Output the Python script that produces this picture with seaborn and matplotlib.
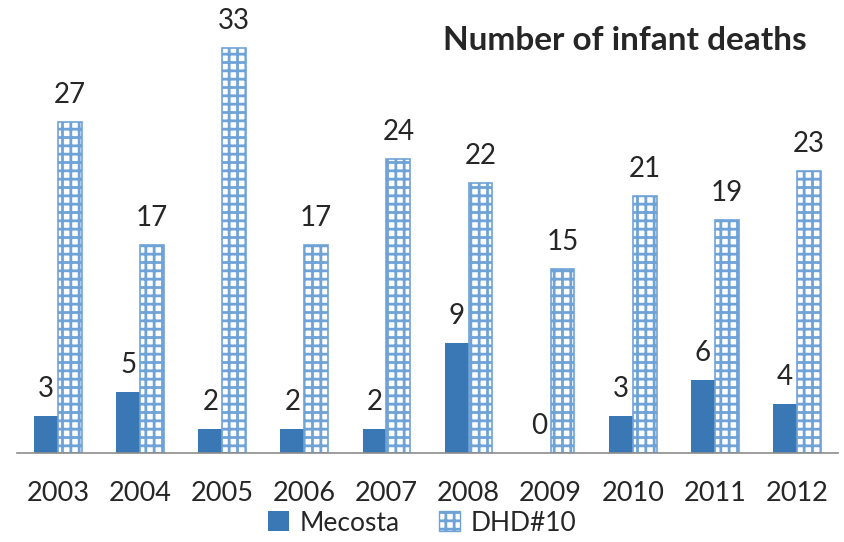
import numpy as np
import pandas as pd
import matplotlib
matplotlib.use("Agg")
import matplotlib.pyplot as plt
import seaborn as sns

# values
years = ["2003", "2004", "2005", "2006", "2007", "2008", "2009", "2010", "2011", "2012"]
mecosta = [3, 5, 2, 2, 2, 9, 0, 3, 6, 4]
dhd10 = [27, 17, 33, 17, 24, 22, 15, 21, 19, 23]
series = ["Mecosta", "DHD#10"]

df = pd.DataFrame({
    "year": years * 2,
    "deaths": mecosta + dhd10,
    "series": [series[0]] * len(years) + [series[1]] * len(years),
})

sns.set_style("white")
plt.rcParams["font.family"] = ["Lato", "DejaVu Sans"]
plt.rcParams["hatch.linewidth"] = 2.0
plt.rcParams["hatch.color"] = "#6fa3d8"

solid = "#3a78b5"
light = "#6fa3d8"

fig = plt.figure(figsize=(8.44, 5.42), dpi=100)
ax = fig.add_axes([0.02, 0.164, 0.973, 0.792])

sns.barplot(data=df, x="year", y="deaths", hue="series", hue_order=series,
            palette=[solid, "white"], width=0.58, saturation=1, ax=ax, legend=False)

# style the DHD bars as a light blue grid
for bar in ax.containers[1]:
    bar.set_hatch("++")
    bar.set_edgecolor(light)
    bar.set_linewidth(1.2)
for bar in ax.containers[0]:
    bar.set_edgecolor("none")

for cont in ax.containers:
    ax.bar_label(cont, padding=10, fontsize=20)

ax.set_ylim(0, 35)
ax.set_xlim(-0.5, len(years) - 0.5)
ax.set_xlabel("")
ax.set_ylabel("")
ax.set_yticks([])
for s in ["top", "right", "left"]:
    ax.spines[s].set_visible(False)
ax.spines["bottom"].set_color("#8c8c8c")
ax.spines["bottom"].set_linewidth(1.2)

ax.tick_params(axis="x", which="major", length=0, labelsize=19.5, pad=20)
ax.set_xticks(np.arange(-0.5, len(years)), minor=True)
ax.tick_params(axis="x", which="minor", length=8, width=1.2, color="#8c8c8c")

fig.text(0.74, 0.925, "Number of infant deaths", fontsize=24, fontweight="bold",
         ha="center", va="center")

handles = [
    plt.Rectangle((0, 0), 1, 1, facecolor=solid, edgecolor="none"),
    plt.Rectangle((0, 0), 1, 1, facecolor="white", edgecolor=light, hatch="++"),
]
fig.legend(handles, series, loc="center", bbox_to_anchor=(0.5, 0.035), ncol=2,
           frameon=False, fontsize=19, handlelength=0.8, handleheight=0.8,
           columnspacing=1.5, handletextpad=0.4)

fig.savefig("out.png", dpi=100)
